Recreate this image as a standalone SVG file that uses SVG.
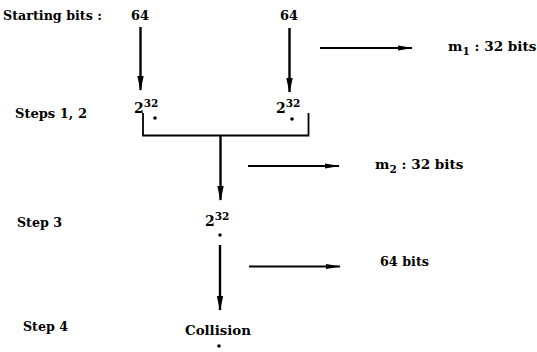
<svg xmlns="http://www.w3.org/2000/svg" width="537" height="352" viewBox="0 0 537 352">
<defs>
<style>
.t{font-family:"DejaVu Serif","Liberation Serif",serif;font-weight:bold;font-size:13px;fill:#000}
.big{font-size:14px}
.mid{font-size:13.6px}
.sup{font-size:10.5px}
.ln{stroke:#000;fill:none;stroke-linecap:butt}
.v{stroke-width:2.4}
.h{stroke-width:1.8}
.dot{fill:#000}
</style>
<marker id="ah" markerUnits="userSpaceOnUse" markerWidth="15" markerHeight="7" refX="14" refY="3.5" orient="auto">
<path d="M0,0.3 L15,3.5 L0,6.7 z" fill="#000"/>
</marker>
<marker id="ahs" markerUnits="userSpaceOnUse" markerWidth="15" markerHeight="6" refX="14" refY="3" orient="auto">
<path d="M0,0.5 L15,3 L0,5.5 z" fill="#000"/>
</marker>
</defs>
<rect width="537" height="352" fill="#fff"/>

<g id="labels">
<text class="t" x="3" y="20" textLength="99" lengthAdjust="spacingAndGlyphs">Starting bits :</text>
<text class="t" x="15" y="118" textLength="72" lengthAdjust="spacingAndGlyphs">Steps 1, 2</text>
<text class="t" x="17" y="227" textLength="45" lengthAdjust="spacingAndGlyphs">Step 3</text>
<text class="t" x="23" y="331" textLength="45" lengthAdjust="spacingAndGlyphs">Step 4</text>
</g>

<g id="start-left">
<text class="t" x="131" y="20" textLength="18" lengthAdjust="spacingAndGlyphs">64</text>
</g>
<g id="start-right">
<text class="t" x="280" y="20" textLength="18" lengthAdjust="spacingAndGlyphs">64</text>
</g>

<g id="step12-left">
<text class="t big" x="134" y="113">2<tspan class="sup" dy="-6">32</tspan></text>
<circle class="dot" cx="155" cy="118" r="1.8"/>
</g>
<g id="step12-right">
<text class="t big" x="276" y="113">2<tspan class="sup" dy="-6">32</tspan></text>
<circle class="dot" cx="292" cy="119" r="1.8"/>
</g>

<g id="step3">
<text class="t big" x="205" y="226">2<tspan class="sup" dy="-6">32</tspan></text>
<circle class="dot" cx="220" cy="235" r="1.8"/>
</g>

<g id="collision">
<text class="t" x="185" y="335" textLength="66" lengthAdjust="spacingAndGlyphs">Collision</text>
<circle class="dot" cx="219" cy="346" r="1.8"/>
</g>

<g id="m1">
<text class="t mid" x="448" y="51">m<tspan class="sup" dy="4">1</tspan><tspan dy="-4"> : 32 bits</tspan></text>
</g>
<g id="m2">
<text class="t mid" x="375" y="169">m<tspan class="sup" dy="4">2</tspan><tspan dy="-4"> : 32 bits</tspan></text>
</g>
<g id="bits64">
<text class="t" x="380" y="266" textLength="49" lengthAdjust="spacingAndGlyphs">64 bits</text>
</g>

<g id="connectors">
<line class="ln v" x1="140.5" y1="27" x2="140.5" y2="90" marker-end="url(#ah)"/>
<line class="ln v" x1="289.5" y1="28" x2="289.5" y2="92" marker-end="url(#ah)"/>
<polyline class="ln h" points="143,113 143,135.5 308.5,135.5 308.5,113"/>
<line class="ln v" x1="220.5" y1="135.5" x2="220.5" y2="200" marker-end="url(#ah)"/>
<line class="ln v" x1="220" y1="245" x2="220" y2="310" marker-end="url(#ah)"/>
<line class="ln h" x1="320" y1="48" x2="412" y2="48" marker-end="url(#ahs)"/>
<line class="ln h" x1="248" y1="166" x2="339" y2="166" marker-end="url(#ahs)"/>
<line class="ln h" x1="249" y1="266.5" x2="340" y2="266.5" marker-end="url(#ahs)"/>
</g>
</svg>
